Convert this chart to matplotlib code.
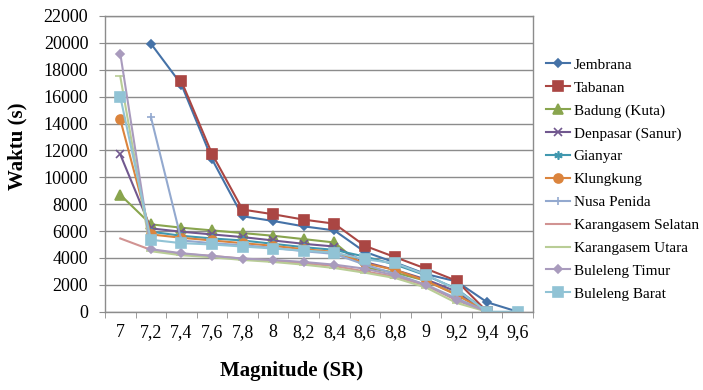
import matplotlib
matplotlib.use("Agg")
import matplotlib.pyplot as plt
import numpy as np

categories = ["7", "7,2", "7,4", "7,6", "7,8", "8", "8,2", "8,4", "8,6", "8,8", "9", "9,2", "9,4", "9,6"]
N = None
jembrana = [N, 19950, 16900, 11350, 7100, 6750, 6350, 6050, 4450, 3650, 2800, 2250, 700, 0]
tabanan = [N, N, 17150, 11750, 7600, 7250, 6850, 6550, 4900, 4050, 3200, 2300, 0, N]
badung = [8700, 6500, 6250, 6050, 5850, 5650, 5400, 5150, 3300, 2900, 2300, 1300, 0, N]
denpasar = [11700, 6200, 5950, 5750, 5550, 5300, 5050, 4850, 3700, 3100, 2400, 1500, 0, N]
gianyar = [N, 5950, 5650, 5450, 5300, 5050, 4800, 4600, 4100, 3500, 2700, 1700, 0, N]
klungkung = [14300, 5750, 5500, 5300, 5100, 4900, 4650, 4450, 3600, 3100, 2300, 1250, 0, N]
nusa_penida = [N, 14500, 5300, 5100, 4950, 4750, 4500, 4300, 3500, 2800, 2000, 1000, 0, N]
karangasem_selatan = [5450, 4600, 4300, 4150, 3950, 3800, 3600, 3400, 3000, 2600, 1950, 850, 0, N]
karangasem_utara = [17500, 4500, 4200, 4050, 3850, 3700, 3500, 3250, 2900, 2500, 1800, 650, 0, N]
buleleng_timur = [19200, 4650, 4350, 4150, 3950, 3850, 3700, 3500, 3200, 2700, 2000, 900, 0, N]
buleleng_barat = [16000, 5350, 5100, 5000, 4850, 4700, 4550, 4400, 3900, 3600, 2750, 1650, 0, 0]

series_names = ["Jembrana", "Tabanan", "Badung (Kuta)", "Denpasar (Sanur)", "Gianyar",
                "Klungkung", "Nusa Penida", "Karangasem Selatan", "Karangasem Utara",
                "Buleleng Timur", "Buleleng Barat"]
series_values = [jembrana, tabanan, badung, denpasar, gianyar, klungkung, nusa_penida,
                 karangasem_selatan, karangasem_utara, buleleng_timur, buleleng_barat]
colors = ["#4572A7", "#AA4643", "#89A54E", "#71588F", "#4198AF", "#DB843D",
          "#93A9CF", "#D19392", "#B9CD96", "#A99BBD", "#91C3D5"]
markers = ["D", "s", "^", "x", (6, 2, 0), "o", "+", "", "_", "D", "s"]
msizes = [4.5, 6.5, 6.5, 6, 6, 6.5, 6, 0, 7, 4.5, 6.5]

plt.rcParams['font.family'] = ['Liberation Serif', 'DejaVu Serif']

fig = plt.figure(figsize=(7.03, 3.90), dpi=100)
ax = fig.add_axes([105/703, 1-311.7/390, 428/703, 295.7/390])

x = np.arange(len(categories))
for name, vals, c, m, ms in zip(series_names, series_values, colors, markers, msizes):
    v = np.array([np.nan if t is None else t for t in vals], dtype=float)
    ax.plot(x, v, color=c, lw=1.5, marker=m if m else None, markersize=ms,
            markeredgecolor=c, markerfacecolor=c, markeredgewidth=1.2, label=name)

ax.set_xlim(-0.5, len(categories) - 0.5)
ax.set_ylim(0, 22000)
ax.set_yticks(np.arange(0, 22001, 2000))
ax.set_xticks(x)
ax.set_xticklabels(categories)
ax.set_xticks(np.arange(-0.5, len(categories), 1), minor=True)
ax.yaxis.grid(True, color="#8c8c8c", lw=1.0)
ax.set_axisbelow(True)
for s in ax.spines.values():
    s.set_color("#8c8c8c")
    s.set_linewidth(1.0)
ax.tick_params(axis='y', labelsize=13, length=4, pad=8, color="#8c8c8c")
ax.tick_params(axis='x', which='major', labelsize=13, length=0, pad=9)
ax.tick_params(axis='x', which='minor', length=4, color="#8c8c8c")

ax.set_ylabel("Waktu (s)", fontsize=15, fontweight='bold')
ax.yaxis.label.set_va('center')
ax.yaxis.set_label_coords(-0.205, 0.56)
ax.set_xlabel("Magnitude (SR)", fontsize=15, fontweight='bold')
ax.xaxis.set_label_coords(0.437, -0.2)
ax.xaxis.label.set_va('center')

fig.legend(loc='upper left', bbox_to_anchor=(546/703, 1-58/390), frameon=False,
           fontsize=11, handlelength=1.6, handletextpad=0.2, labelspacing=0.6,
           borderaxespad=0, borderpad=0)

fig.savefig("out.png", dpi=100, facecolor="white")
